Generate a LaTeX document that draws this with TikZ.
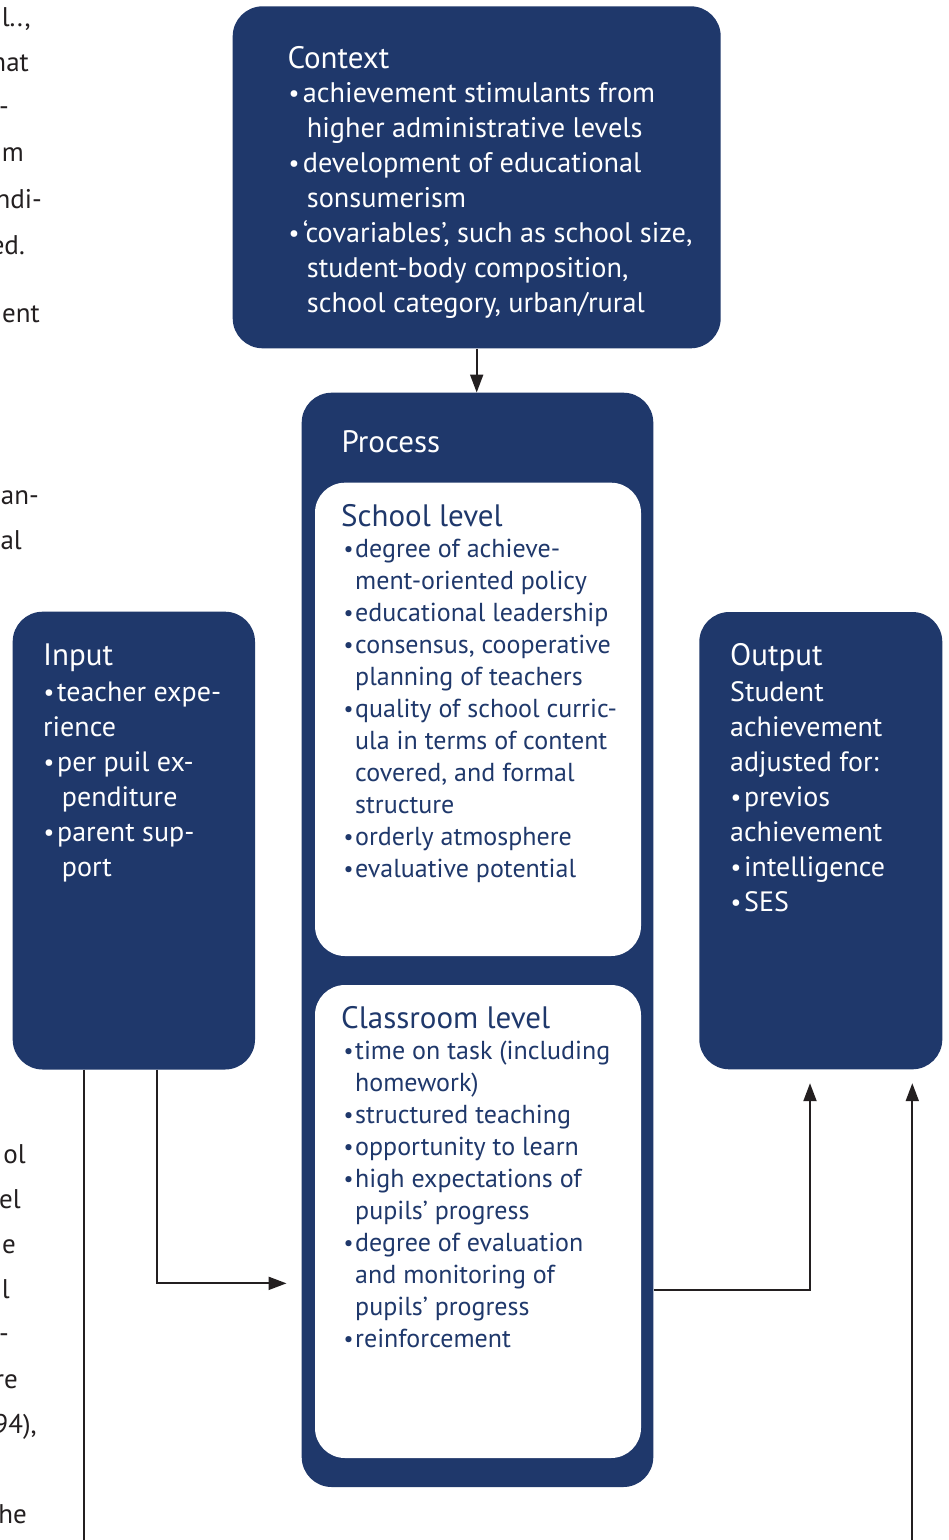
\documentclass[tikz,border=0pt]{standalone}
\usepackage{fontspec}
\usepackage{graphicx}
\setmainfont{PT Sans}
\usetikzlibrary{arrows.meta,fit}
\definecolor{navy}{RGB}{31,56,107}
\definecolor{ink}{RGB}{35,31,32}
\newcommand\smallbullet{\raisebox{0.03em}{\scalebox{0.85}{\textbullet}}}
\newcommand\blines[7]{%
  \foreach \k/\t [count=\i from 0] in {#7}{%
    \if b\k
      \node[lt, name=#1\i] at (#2, #5+#6*\i) {\makebox[#3][l]{\hspace{0.5pt}\smallbullet}\t};
    \else\if c\k
      \node[lt, name=#1\i] at (#4, #5+#6*\i) {\t};
    \else
      \node[lt, name=#1\i] at (#2, #5+#6*\i) {\t};
    \fi\fi
  }}
\begin{document}
\begin{tikzpicture}[x=1pt,y=-1pt,
  navybox/.style={draw=none, fill=navy, inner sep=0pt, rounded corners=30pt},
  whitebox/.style={draw=none, fill=white, inner sep=0pt, rounded corners=30pt},
  tt/.style={anchor=base west, inner sep=0pt, font=\fontsize{31}{36}\selectfont},
  frag/.style={anchor=base east, inner sep=0pt, text=ink, font=\fontsize{27}{32}\selectfont},
  ln/.style={draw=ink, line width=2pt},
  arr/.style={ln, -{Triangle[length=18pt,width=13pt]}}]
\useasboundingbox (0,0) rectangle (949,1540);
\fill[white] (0,0) rectangle (949,1540);

% boxes
\node[navybox, fit={(232.7,6.3) (720.7,348.3)}] (context) {};
\node[navybox, fit={(301.7,392.7) (653.3,1487)}] (process) {};
\node[whitebox, fit={(315,482.7) (641,956)}] (school) {};
\node[whitebox, fit={(315,985) (641,1458)}] (classroom) {};
\node[navybox, fit={(12.7,611.7) (255,1069.5)}] (input) {};
\node[navybox, fit={(699.3,612) (942.3,1069.3)}] (output) {};

% titles
\node[tt, text=white] (ctxT) at (287.3,68) {Context};
\node[tt, text=white] (procT) at (341.5,452.7) {Process};
\node[tt, text=navy] (schT) at (341,526) {School level};
\node[tt, text=navy] (clsT) at (341,1028) {Classroom level};
\node[tt, text=white] (inT) at (43,665) {Input};
\node[tt, text=white] (outT) at (730,665) {Output};

% lists
\tikzset{lt/.style={anchor=base west, inner sep=0pt, text=white, font=\fontsize{28.3}{34}\selectfont}}
\blines{ctx}{288}{14.7pt}{306.7}{102}{35.1}{%
b/achievement stimulants from,%
c/higher administrative levels,%
b/development of educational,%
c/sonsumerism,%
b/{‘covariables’, such as school size,},%
c/{student-body composition,},%
c/{school category, urban/rural}}

\tikzset{lt/.style={anchor=base west, inner sep=0pt, text=white, font=\fontsize{28}{34}\selectfont}}
\blines{inp}{43}{14pt}{61.7}{701.5}{35}{%
b/teacher expe-,%
n/rience,%
b/per puil ex-,%
c/penditure,%
b/parent sup-,%
c/port}

\blines{out}{730}{14pt}{744}{701.5}{35}{%
n/Student,%
n/achievement,%
n/adjusted for:,%
b/previos,%
n/achievement,%
b/intelligence,%
b/SES}

\tikzset{lt/.style={anchor=base west, inner sep=0pt, text=navy, font=\fontsize{26}{32}\selectfont}}
\blines{sch}{343}{12pt}{355}{557}{32}{%
b/degree of achieve-,%
c/ment-oriented policy,%
b/educational leadership,%
b/{consensus, cooperative},%
c/planning of teachers,%
b/quality of school curric-,%
c/ula in terms of content,%
c/{covered, and formal},%
c/structure,%
b/orderly atmosphere,%
b/evaluative potential}

\blines{cls}{343}{12pt}{355}{1059}{32}{%
b/time on task (including,%
c/homework),%
b/structured teaching,%
b/opportunity to learn,%
b/high expectations of,%
c/pupils’ progress,%
b/degree of evaluation,%
c/and monitoring of,%
c/pupils’ progress,%
b/reinforcement}

% connectors
\path ([xshift=-10.8pt,yshift=-13.7pt]output.south) coordinate (otipA);
\path ([xshift=91.5pt,yshift=-13.7pt]output.south) coordinate (otipB);
\coordinate (botL) at (84,1540);
\coordinate (botR) at (912.3,1540);
\draw[arr] (context.south) -- (context.south |- process.north);
\draw[arr] ([xshift=23.1pt]input.south) |- ([xshift=-15pt,yshift=-343.5pt]process.west);
\draw[arr] ([yshift=-350.5pt]process.east) -| (otipA);
\draw[ln] (input.south -| botL) -- (botL);
\draw[arr] (botR) -- (otipB);

% cut-off text of the page at the left margin
\node[frag] (f1) at (31,26) {al..,};
\node[frag] (f2) at (29,71) {hat};
\node[frag] (f3) at (9,115) {-};
\node[frag] (f4) at (24,161) {m};
\node[frag] (f5) at (42,208) {ndi-};
\node[frag] (f6) at (25,254) {ed.};
\node[frag] (f7) at (40,322) {ent};
\node[frag] (f8) at (39,504) {an-};
\node[frag] (f9) at (22,549) {al};
\node[frag] (f10) at (26,1163) {ol};
\node[frag] (f11) at (21,1208) {el};
\node[frag] (f12) at (16,1253) {e};
\node[frag] (f13) at (10,1298) {l};
\node[frag] (f14) at (9,1342) {-};
\node[frag] (f15) at (18,1388) {re};
\node[frag] (f16) at (37,1433) {94),};
\node[frag] (f17) at (27,1523) {he};
\end{tikzpicture}
\end{document}
